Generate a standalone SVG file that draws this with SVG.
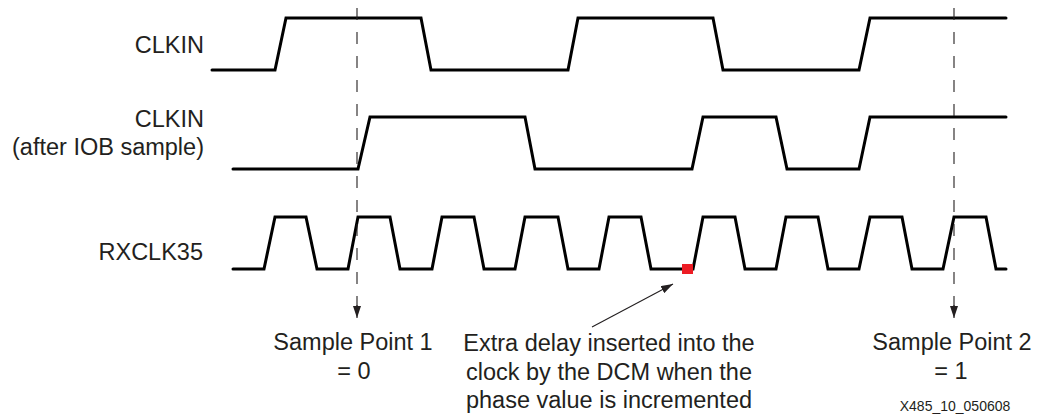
<svg xmlns="http://www.w3.org/2000/svg" width="1044" height="415" viewBox="0 0 1044 415">
  <style>
    .lbl { font-family: "Liberation Sans", Arial, sans-serif; font-size: 23.5px; fill: #231f20; }
    .end { text-anchor: end; }
    .mid { text-anchor: middle; }
    .wave { fill: none; stroke: #000; stroke-width: 3; stroke-linejoin: miter; stroke-linecap: round; }
    .dash { fill: none; stroke: #231f20; stroke-width: 1.1; stroke-dasharray: 12 12; }
    .thin { fill: none; stroke: #231f20; stroke-width: 1.1; }
    .small { font-family: "Liberation Sans", Arial, sans-serif; font-size: 14px; fill: #231f20; text-anchor: middle; }
  </style>
  <defs>
    <marker id="ah" viewBox="0 0 12 8" refX="12" refY="4" markerWidth="12" markerHeight="8" markerUnits="userSpaceOnUse" orient="auto">
      <path d="M0,0 L12,4 L0,8 Z" fill="#231f20"/>
    </marker>
  </defs>
  <rect width="1044" height="415" fill="#fff"/>

  <g id="clkin">
    <text class="lbl end" x="204" y="53">CLKIN</text>
    <path class="wave" d="M212,70 L275,70 L286,18 L421,18 L431,70 L568,70 L578,18 L713,18 L723,70 L859,70 L870,18 L1006,18"/>
  </g>

  <g id="clkin-iob">
    <text class="lbl end" x="204" y="127">CLKIN</text>
    <text class="lbl end" x="204" y="155">(after IOB sample)</text>
    <path class="wave" d="M233,169 L358,169 L370,117 L525,117 L535,169 L692,169 L703,117 L776,117 L787,169 L859,169 L870,117 L1006,117"/>
  </g>

  <g id="rxclk35">
    <text class="lbl end" x="203" y="260">RXCLK35</text>
    <path class="wave" d="M233,269 L264,269 L275,217 L306,217 L317,269 L348,269 L358,217 L390,217 L400,269 L432,269 L442,217 L474,217 L484,269 L515,269 L525,217 L558,217 L568,269 L599,269 L609,217 L641,217 L651,269 L693,269 L703,217 L735,217 L745,269 L776,269 L786,217 L818,217 L828,269 L859,269 L870,217 L902,217 L912,269 L943,269 L954,217 L986,217 L996,269 L1006,269"/>
    <rect x="682" y="264" width="11" height="10" fill="#ed1c24"/>
  </g>

  <g id="connectors">
    <path class="dash" d="M357,8 L357,306"/>
    <path class="thin" d="M357,305 L357,318" marker-end="url(#ah)"/>
    <path class="dash" d="M954,8 L954,306"/>
    <path class="thin" d="M954,305 L954,318" marker-end="url(#ah)"/>
    <path class="thin" d="M592,327 L673,284" marker-end="url(#ah)"/>
  </g>

  <g id="sample1">
    <text class="lbl mid" x="353" y="350">Sample Point 1</text>
    <text class="lbl mid" x="354" y="379">= 0</text>
  </g>

  <g id="note">
    <text class="lbl mid" x="609" y="351">Extra delay inserted into the</text>
    <text class="lbl mid" x="609" y="380">clock by the DCM when the</text>
    <text class="lbl mid" x="609" y="408">phase value is incremented</text>
  </g>

  <g id="sample2">
    <text class="lbl mid" x="952" y="350">Sample Point 2</text>
    <text class="lbl mid" x="951" y="379">= 1</text>
  </g>

  <text class="small" x="955" y="411">X485_10_050608</text>
</svg>
